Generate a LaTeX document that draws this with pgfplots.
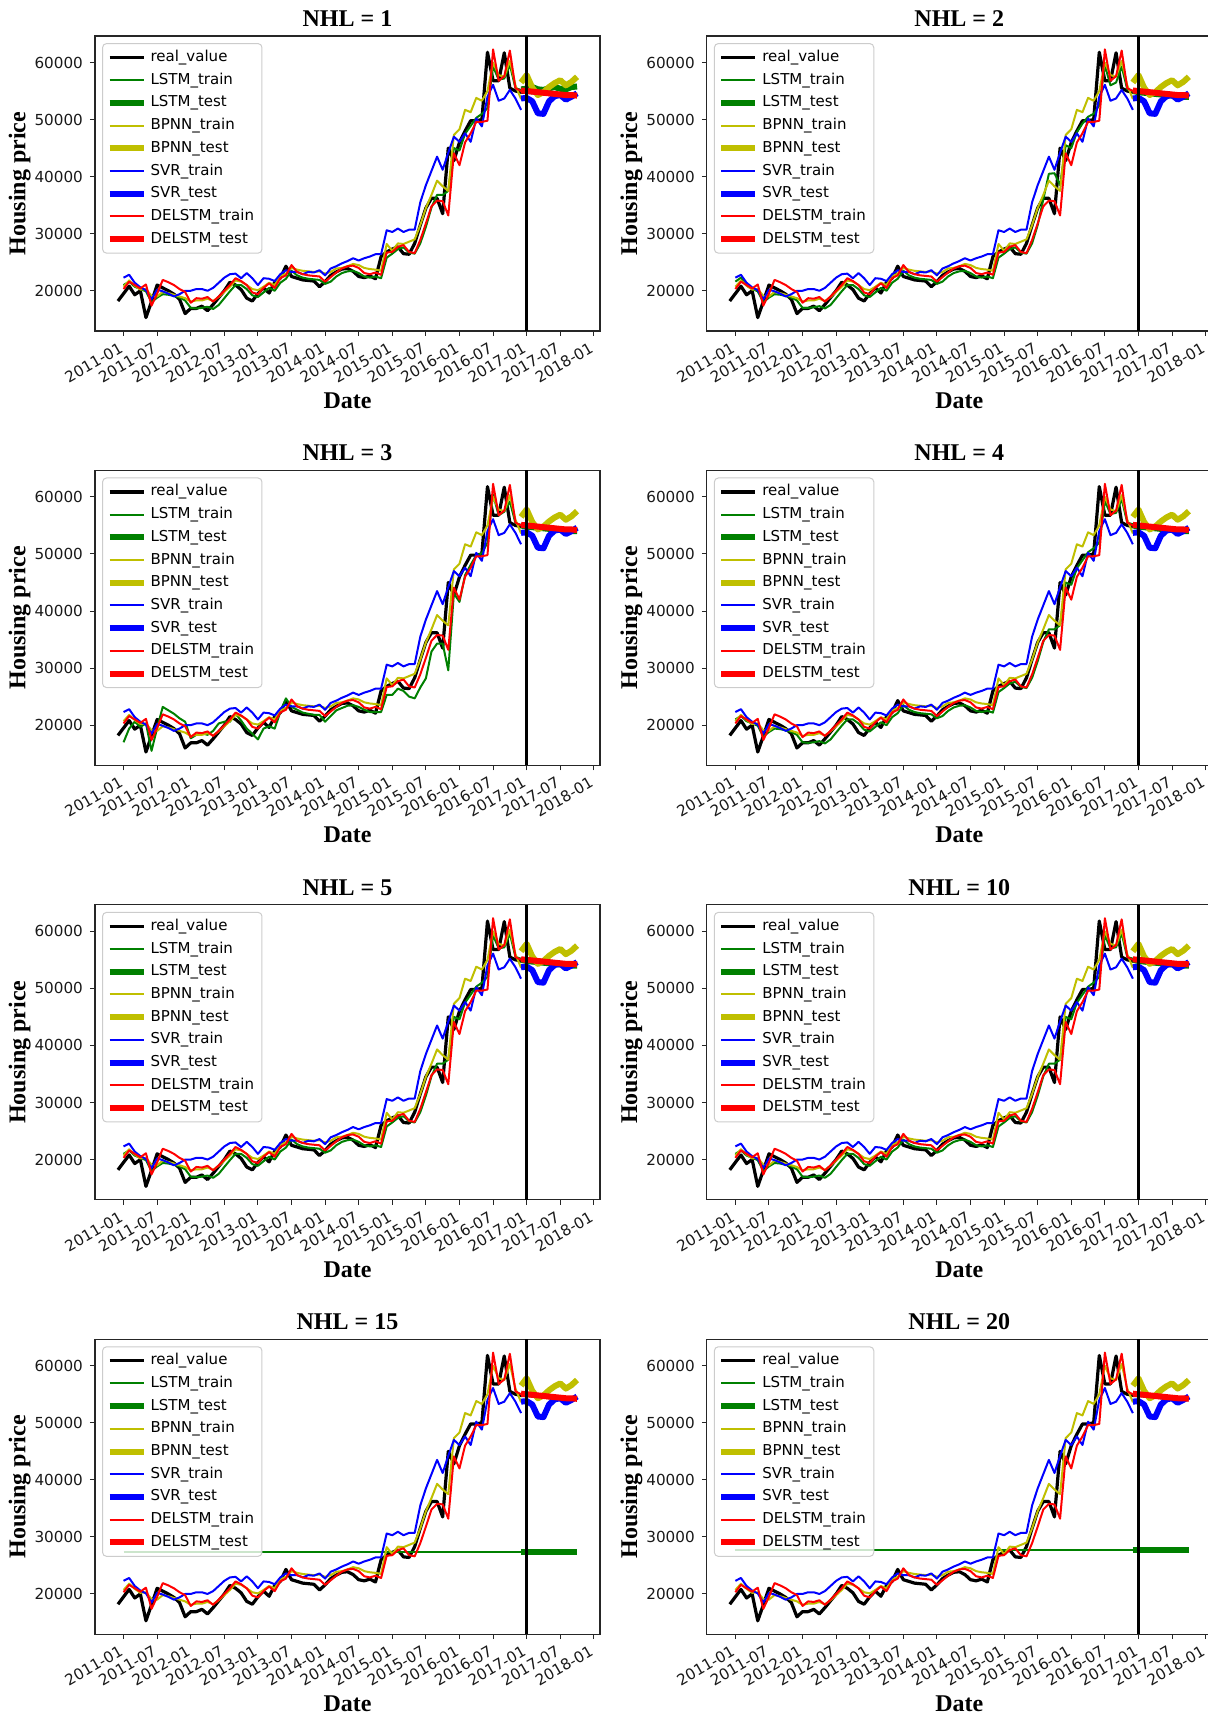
\documentclass[border=0pt]{standalone}
\usepackage{fontspec}
\setmainfont{Liberation Serif}
\newfontfamily\dejavu{DejaVu Sans}
\usepackage{pgfplots}
\usepackage{pgfplotstable}
\pgfplotsset{compat=1.18}

\definecolor{mgreen}{HTML}{008000}
\definecolor{myellow}{HTML}{BFBF00}
\definecolor{mblue}{HTML}{0000FF}
\definecolor{mred}{HTML}{FF0000}

\pgfplotstableread{
m v
-1 18200
0 19500
1 20800
2 19300
3 20000
4 15300
5 18100
6 21000
7 20500
8 20000
9 19400
10 18500
11 16000
12 16900
13 16900
14 17300
15 16500
16 17600
17 18800
18 20000
19 21500
20 21000
21 20200
22 18700
23 18200
24 19500
25 20500
26 19600
27 21500
28 22200
29 24300
30 22500
31 22200
32 21900
33 21800
34 21700
35 20700
36 21600
37 22700
38 23300
39 23800
40 23900
41 23400
42 22500
43 22300
44 22600
45 22100
46 26000
47 26800
48 27300
49 27700
50 26500
51 26400
52 28300
53 31500
54 34500
55 36200
56 36200
57 33500
58 45000
59 42800
60 46000
61 48000
62 49800
63 49800
64 50000
65 61800
66 56800
67 56800
68 61700
69 55500
70 55000
71 54800
72 54800
73 54700
74 54600
75 54500
76 54400
77 54400
78 54300
79 54300
80 54200
81 54200
}\realtab

\pgfplotstableread{
m lstm lstmc lstmd bpnn svr del
0 21000 17000 21600 20700 22300 20300
1 21600 19400 22300 21800 22800 21600
2 20700 20600 20900 20900 21400 21000
3 20300 19700 20300 20200 20600 20400
4 19900 20300 19900 20300 20100 21100
5 18000 15500 18000 19100 18500 17400
6 18800 19500 18800 19000 20200 19500
7 19400 23200 19400 19800 19900 21900
8 19300 22600 19300 19600 19500 21500
9 19100 22000 19100 19300 19000 21000
10 18800 21200 18800 19000 19400 20300
11 18300 20600 18300 18700 20000 19800
12 17000 17700 17000 18100 20000 17900
13 16900 18300 17000 18300 20300 18700
14 17000 18600 17100 18300 20300 18600
15 17200 18300 17300 18600 20000 18900
16 16800 19000 16900 18200 20500 18100
17 17500 20300 17500 18900 21400 19000
18 18700 20600 18700 19800 22300 20000
19 19900 20600 19900 20700 22900 21000
20 21000 22000 21000 21800 23000 22200
21 21000 20800 21000 21600 22200 21700
22 20300 19400 20300 21000 23100 21000
23 19200 18500 19200 20300 22200 19700
24 18900 17500 18900 20100 21000 19400
25 19700 19400 19700 20700 22200 20500
26 20500 19800 20500 21400 22100 21300
27 20000 19400 20000 21000 21700 20500
28 21400 22300 21400 22600 22900 22200
29 22100 24700 22100 23000 23600 22700
30 23500 23200 23500 24000 23300 24500
31 22700 22700 22700 23700 23300 23300
32 22300 22200 22300 23500 22900 22900
33 22100 22000 22100 23400 23300 22700
34 22000 21800 22000 23300 23200 22600
35 21900 21800 21900 23400 23600 22500
36 21200 20600 21200 23000 22700 21600
37 21600 21600 21600 23300 23900 22400
38 22500 22600 22500 23900 24300 23200
39 23100 23000 23100 24000 24800 23900
40 23400 23400 23400 24300 25200 24300
41 23500 23500 23500 24700 25700 24400
42 23100 23200 23100 24500 25300 24000
43 22500 22700 22500 24000 25700 23100
44 22300 22300 22300 23800 26000 22900
45 22500 22300 22500 23700 26400 23200
46 22200 22300 22200 23500 26400 22800
47 25800 25300 25800 28200 30600 26700
48 26500 25300 26500 27000 30300 26800
49 27300 26400 27300 28300 30900 27700
50 27600 26000 27600 28200 30300 28000
51 26700 25000 26700 28600 30700 26800
52 26500 24700 26500 29000 30700 26600
53 28300 26600 28300 31500 35500 28900
54 31200 28200 31500 34500 38500 31800
55 34600 32900 36000 36800 41000 34800
56 36800 34300 40500 39300 43500 35800
57 36800 34300 40600 38300 41200 35700
58 37500 29600 38500 37500 44200 33200
59 45000 43100 45500 47300 47000 44100
60 44600 41600 45000 48300 46100 42000
61 47500 46300 47800 51700 47600 46000
62 48900 48100 49300 51300 46100 47600
63 50300 49800 50500 53800 50200 49600
64 51000 50100 51000 53300 48800 49600
65 52000 52000 52500 55000 54000 49800
66 59300 60400 59500 60000 56100 62300
67 57000 56800 56000 57800 53300 56800
68 57200 57400 56500 57500 53700 57600
69 59600 59200 59300 60300 55200 62100
70 55500 55400 55300 56000 53700 55500
71 55200 55100 55000 53600 51700 55000
}\traintab

\pgfplotstableread{
m lstma lstmb bpnn svr del
71 55300 55000 56500 53700 55100
72 55400 54800 57800 53800 55000
73 55700 54700 55600 53200 54900
74 55300 54600 54300 51100 54800
75 55200 54500 54800 51000 54700
76 55500 54400 55700 53200 54600
77 55700 54300 56400 54100 54500
78 55400 54200 56900 54300 54400
79 55300 54100 56000 53500 54300
80 55700 54000 56600 54000 54300
81 55800 54000 57500 54600 54200
}\testtab

\pgfplotsset{
  nhl/.style={
    scale only axis, width=252.5pt, height=147.5pt, anchor=north west,
    xmin=-5.1, xmax=85.1, ymin=12950, ymax=64650,
    xtick={0,6,...,84},
    xticklabels={2011-01,2011-07,2012-01,2012-07,2013-01,2013-07,2014-01,2014-07,2015-01,2015-07,2016-01,2016-07,2017-01,2017-07,2018-01},
    ytick={20000,30000,40000,50000,60000},
    scaled y ticks=false,
    /pgf/number format/1000 sep={},
    /pgf/number format/assume math mode=true,
    tick label style={font=\dejavu\fontsize{7.6}{9}\selectfont, black!90},
    xticklabel style={rotate=30, anchor=north east, inner sep=1pt, xshift=-2.5pt},
    tick align=outside, major tick length=2.5pt,
    xtick pos=bottom, ytick pos=left,
    axis line style={line width=0.6pt, black!85},
    every tick/.style={black!85, line width=0.5pt},
    every axis title shift=0pt,
    title style={font=\bfseries\fontsize{12}{14}\selectfont, at={(0.5,1.059)}, anchor=center},
    xlabel={Date}, ylabel={Housing price},
    label style={font=\bfseries\fontsize{12}{14}\selectfont},
    xlabel style={at={(axis description cs:0.5,-0.236)}, anchor=center},
    ylabel style={at={(axis description cs:-0.149,0.5)}, anchor=center},
    legend style={at={(0.014,0.976)}, anchor=north west, draw=black!20, line width=0.5pt,
      rounded corners=2pt, fill=white, fill opacity=0.8, draw opacity=1, text opacity=1,
      font=\dejavu\fontsize{7.5}{9}\selectfont, inner xsep=2pt, inner ysep=3pt, row sep=3.35pt,
      nodes={inner ysep=0pt, text height=6pt, text depth=2pt}},
    legend cell align=left,
    legend image code/.code={\draw[#1] (0pt,0pt) -- (17pt,0pt);},
    every axis plot/.append style={line join=round, no markers},
  },
  realst/.style={black, line width=1.6pt},
  lstr/.style={mgreen, line width=1pt},
  lste/.style={mgreen, line width=3pt},
  bptr/.style={myellow, line width=1pt},
  bpte/.style={myellow, line width=3pt},
  svtr/.style={mblue, line width=1pt},
  svte/.style={mblue, line width=3pt},
  detr/.style={mred, line width=1pt},
  dete/.style={mred, line width=3pt},
}

\newcommand{\nhlpanel}[4]{%
\begin{axis}[nhl, at={(#1,#2)}, title={NHL = #3}]
\addplot[realst] table[x=m,y=v]{\realtab};
#4
\addplot[bptr] table[x=m,y=bpnn]{\traintab};
\addplot[bpte] table[x=m,y=bpnn]{\testtab};
\addplot[svtr] table[x=m,y=svr]{\traintab};
\addplot[svte] table[x=m,y=svr]{\testtab};
\addplot[detr] table[x=m,y=del]{\traintab};
\addplot[dete] table[x=m,y=del]{\testtab};
\addplot[black, line width=1.2pt, forget plot] coordinates {(72,12950) (72,64650)};
\legend{real\_value, LSTM\_train, LSTM\_test, BPNN\_train, BPNN\_test, SVR\_train, SVR\_test, DELSTM\_train, DELSTM\_test}
\end{axis}}

\begin{document}
\begin{tikzpicture}
\useasboundingbox (0,0) rectangle (604pt,857.5pt);
\nhlpanel{47.5pt}{839.5pt}{1}{\addplot[lstr] table[x=m,y=lstm]{\traintab}; \addplot[lste] table[x=m,y=lstma]{\testtab};}
\nhlpanel{353.4pt}{839.5pt}{2}{\addplot[lstr] table[x=m,y=lstmd]{\traintab}; \addplot[lste] table[x=m,y=lstmb]{\testtab};}
\nhlpanel{47.5pt}{622.3pt}{3}{\addplot[lstr] table[x=m,y=lstmc]{\traintab}; \addplot[lste] table[x=m,y=lstmb]{\testtab};}
\nhlpanel{353.4pt}{622.3pt}{4}{\addplot[lstr] table[x=m,y=lstm]{\traintab}; \addplot[lste] table[x=m,y=lstmb]{\testtab};}
\nhlpanel{47.5pt}{405.1pt}{5}{\addplot[lstr] table[x=m,y=lstm]{\traintab}; \addplot[lste] table[x=m,y=lstmb]{\testtab};}
\nhlpanel{353.4pt}{405.1pt}{10}{\addplot[lstr] table[x=m,y=lstm]{\traintab}; \addplot[lste] table[x=m,y=lstmb]{\testtab};}
\nhlpanel{47.5pt}{187.9pt}{15}{\addplot[lstr] coordinates {(0,27300) (71,27300)}; \addplot[lste] coordinates {(71,27300) (81,27300)};}
\nhlpanel{353.4pt}{187.9pt}{20}{\addplot[lstr] coordinates {(0,27700) (71,27700)}; \addplot[lste] coordinates {(71,27700) (81,27700)};}
\end{tikzpicture}
\end{document}
